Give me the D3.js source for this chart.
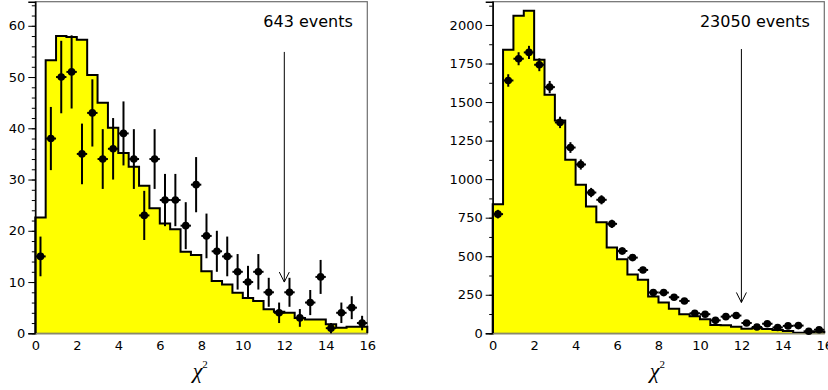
<!DOCTYPE html>
<html><head><meta charset="utf-8">
<script src="https://cdn.jsdelivr.net/npm/d3@7/dist/d3.min.js"></script>
<style>body{margin:0;background:#fff}svg{display:block}</style>
</head><body><svg id="c" width="828" height="390"></svg>
<script>
// bin lower edges (width 0.5) from 0 to 15.5
const binEdges = d3.range(0, 16, 0.5);
// Left panel: Monte Carlo histogram and data (643 events)
const leftHist = [22.6,53.3,58.0,57.8,57.3,50.4,45.0,40.1,35.2,32.5,28.8,24.4,21.4,20.3,15.9,15.3,
  12.1,10.2,9.5,7.9,6.9,6.3,4.7,4.2,4.0,3.0,2.7,2.7,1.75,1.1,1.3,1.3];
const leftData = [15,38,50,51,35,43,34,36,39,34,23,34,26,26,21,29,19,16,15,12,10,12,8,4,8,3,6,11,1,4,5,2];
// Right panel: (23050 events)
const rightHist = [837,1840,2060,2093,1775,1547,1380,1125,963,822,721,556,480,381,348,238,
  199,160,123,110,91,54,52,43,30,32,28,22,15,3,3,10];
const rightData = [773,1640,1781,1822,1742,1597,1368,1205,1095,913,866,710,534,491,411,265,
  264,234,210,130,124,84,108,115,67,41,62,38,48,50,13,23];
const xTicks = [0,2,4,6,8,10,12,14,16];
const leftYTicks = [0,10,20,30,40,50,60];
const rightYTicks = [0,250,500,750,1000,1250,1500,1750,2000];
const leftLabel = "643 events";
const rightLabel = "23050 events";
const cutValue = 12;

const svg = d3.select("#c");
const font = "'DejaVu Sans', Verdana, sans-serif";

function panel(cfg){
  const g = svg.append("g");
  const x = d3.scaleLinear().domain([0,16]).range([cfg.x0, cfg.x1]);
  const y = d3.scaleLinear().domain([0, cfg.ymax]).range([333.3, 1.7]);
  const bw = 0.5;
  // filled histogram
  const pts = [];
  cfg.hist.forEach((v,i)=>{ pts.push([binEdges[i], v]); pts.push([binEdges[i]+bw, v]); });
  const area = d3.area().x(d=>x(d[0])).y0(y(0)).y1(d=>y(d[1]));
  g.append("path").attr("d", area(pts)).attr("fill","#ffff00");
  // frame
  g.append("rect").attr("x",x(0)).attr("y",y(cfg.ymax)).attr("width",x(16)-x(0)).attr("height",y(0)-y(cfg.ymax))
    .attr("fill","none").attr("stroke","#6e6e6e").attr("stroke-width",1.2);
  // histogram outline
  const line = d3.line().x(d=>x(d[0])).y(d=>y(d[1]));
  const op = [[0,0]].concat(pts).concat([[16,0]]);
  g.append("path").attr("d", line(op)).attr("fill","none").attr("stroke","#000").attr("stroke-width",2);
  // y axis
  const ya = g.append("g").attr("transform",`translate(${x(0)},0)`)
    .call(d3.axisLeft(y).tickValues(cfg.yTicks).tickSize(7).tickPadding(3).tickFormat(d3.format("d")));
  ya.select(".domain").attr("stroke","#000").attr("stroke-width",1.5);
  ya.selectAll(".tick line").attr("stroke","#000");
  ya.selectAll("text").attr("font-family",font).attr("font-size",13).attr("fill","#000");
  g.append("g").attr("transform",`translate(${x(0)},0)`)
    .call(d3.axisLeft(y).tickValues(d3.range(0,cfg.ymax,cfg.minor)).tickSize(3.5).tickFormat(""))
    .call(s=>s.select(".domain").remove());
  // x axis labels
  const xa = g.append("g").attr("transform",`translate(0,${y(0)})`)
    .call(d3.axisBottom(x).tickValues(xTicks).tickSize(0).tickPadding(7).tickFormat(d3.format("d")));
  xa.select(".domain").attr("stroke","#8a8a6a").attr("stroke-width",1.5);
  xa.selectAll("text").attr("font-family",font).attr("font-size",13).attr("fill","#000");
  // data points
  const dp = g.append("g");
  cfg.data.forEach((v,i)=>{
    const cx = x(binEdges[i]+bw/2), e = Math.sqrt(v);
    dp.append("line").attr("x1",cx).attr("x2",cx).attr("y1",y(Math.max(0,v-e))).attr("y2",y(v+e))
      .attr("stroke","#000").attr("stroke-width",2);
    dp.append("line").attr("x1",x(binEdges[i])).attr("x2",x(binEdges[i]+bw)).attr("y1",y(v)).attr("y2",y(v))
      .attr("stroke","#000").attr("stroke-width",2);
    dp.append("circle").attr("cx",cx).attr("cy",y(v)).attr("r",3.8).attr("fill","#000");
  });
  // arrow
  const ax = x(cutValue);
  g.append("line").attr("x1",ax).attr("x2",ax).attr("y1",y(cfg.arrowTop)).attr("y2",y(cfg.arrowTip))
    .attr("stroke","#000").attr("stroke-width",1);
  g.append("path").attr("d",`M${ax-5},${y(cfg.arrowTip)-10}L${ax},${y(cfg.arrowTip)}L${ax+5},${y(cfg.arrowTip)-10}`)
    .attr("fill","none").attr("stroke","#000").attr("stroke-width",1);
  // label
  g.append("text").attr("x",x(16)-14.5).attr("y",26.5).attr("text-anchor","end")
    .attr("font-family",font).attr("font-size",16).attr("fill","#000").text(cfg.label);
  // axis title
  const t = g.append("text").attr("x",x(7.95)).attr("y",378).attr("text-anchor","middle")
    .attr("font-family","'Liberation Serif','DejaVu Serif',serif").attr("fill","#000");
  t.append("tspan").attr("font-size",22).attr("font-style","italic").text("χ");
  t.append("tspan").attr("font-size",11).attr("dy",-10).text("2");
}

panel({x0:35.3, x1:367.3, ymax:64.7, yTicks:leftYTicks, minor:2, hist:leftHist, data:leftData,
  arrowTop:54.9, arrowTip:10, label:leftLabel});
panel({x0:492.7, x1:824.3, ymax:2151, yTicks:rightYTicks, minor:125, hist:rightHist, data:rightData,
  arrowTop:1844, arrowTip:200, label:rightLabel});
</script></body></html>
